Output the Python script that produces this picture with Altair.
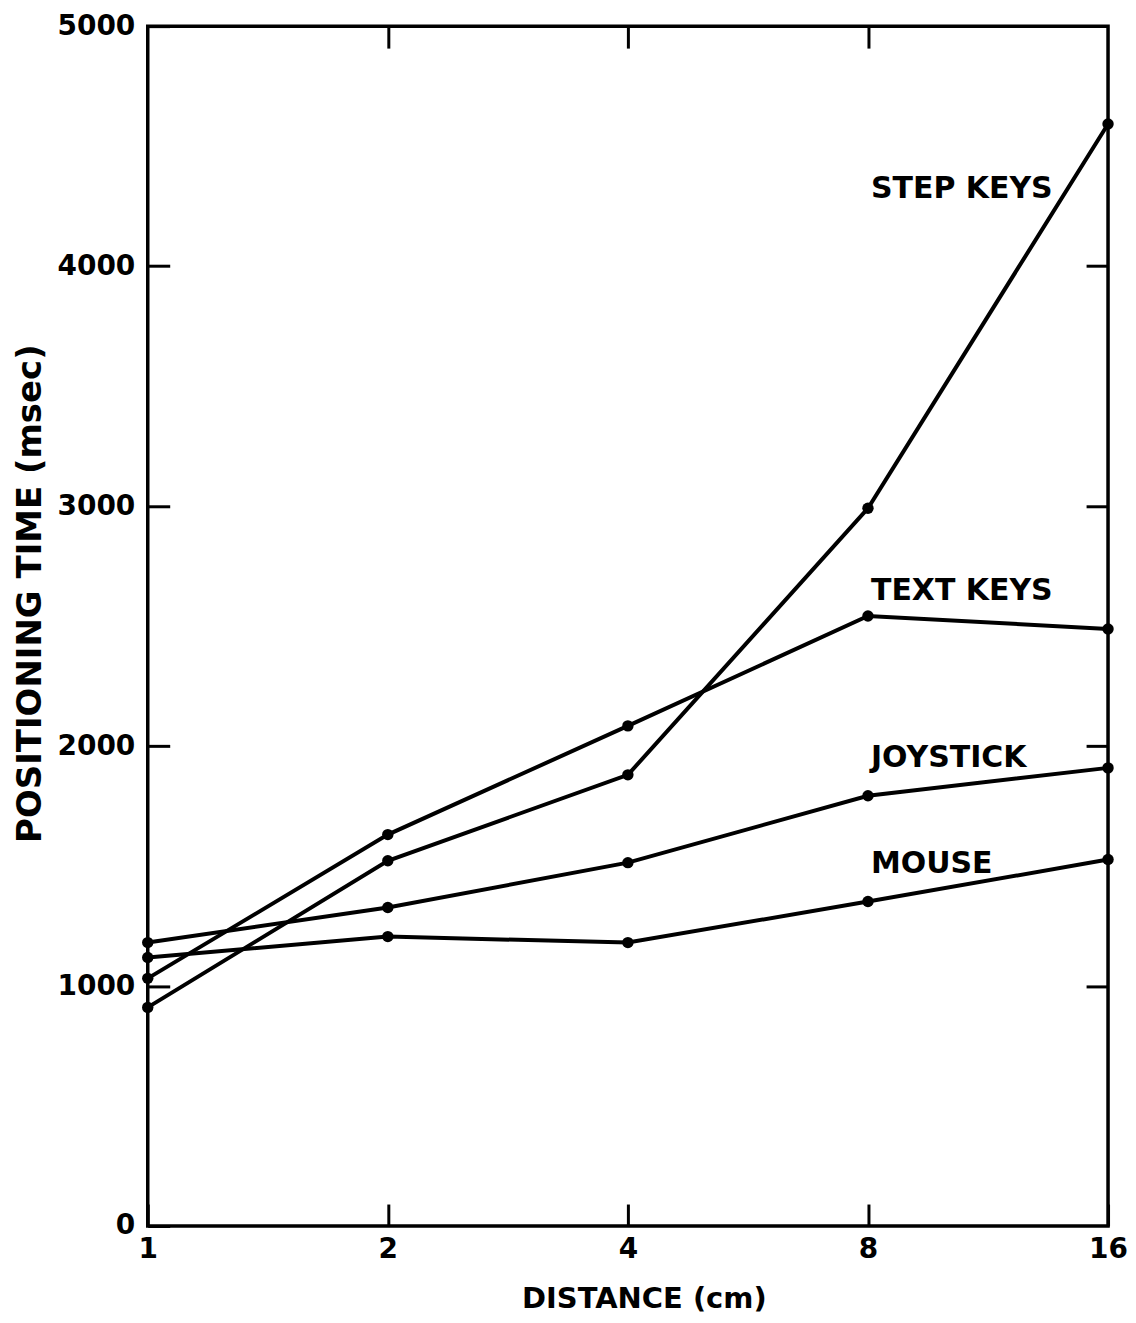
import altair as alt
import pandas as pd

distances = [1, 2, 4, 8, 16]
step_keys = [911, 1522, 1880, 2991, 4592]
text_keys = [1032, 1631, 2084, 2542, 2488]
joystick = [1181, 1327, 1514, 1793, 1909]
mouse = [1119, 1206, 1181, 1352, 1527]

series_names = ["STEP KEYS", "TEXT KEYS", "JOYSTICK", "MOUSE"]
label_x = [8, 8, 8, 8]
label_y = [4285, 2608, 1913, 1473]

rows = []
for name, vals in zip(series_names, [step_keys, text_keys, joystick, mouse]):
    for d, v in zip(distances, vals):
        rows.append({"series": name, "distance": d, "time": v})
df = pd.DataFrame(rows)
labels_df = pd.DataFrame({"series": series_names, "distance": label_x, "time": label_y})

FONT = "DejaVu Sans"
xscale = alt.Scale(type="log", base=2, domain=[1, 16], nice=False)
yscale = alt.Scale(domain=[0, 5000], nice=False)

lines = alt.Chart(df).mark_line(
    color="black", strokeWidth=4,
    point=alt.OverlayMarkDef(filled=True, size=130, color="black", opacity=1),
).encode(
    x=alt.X("distance:Q", scale=xscale,
            axis=alt.Axis(orient="bottom", values=distances, format="d",
                          tickSize=22, offset=-22, domain=False, labelPadding=10,
                          labelFlush=False, labelOverlap=False,
                          title="DISTANCE (cm)", titlePadding=21, titleX=497,
                          titleFontSize=29, grid=False)),
    y=alt.Y("time:Q", scale=yscale,
            axis=alt.Axis(orient="left", values=[0, 1000, 2000, 3000, 4000, 5000],
                          format="d", tickSize=22, offset=-22, domain=False,
                          labelPadding=13, labelFlush=False, labelOverlap=False,
                          title="POSITIONING TIME (msec)", titlePadding=10,
                          titleFontSize=34, titleY=568, grid=False)),
    detail="series:N",
)

labels = alt.Chart(labels_df).mark_text(
    align="left", baseline="alphabetic", dx=3, fontSize=30, font=FONT,
    fontWeight="bold", color="black",
).encode(
    x=alt.X("distance:Q", scale=xscale,
            axis=alt.Axis(orient="top", values=[2, 4, 8], tickSize=22, offset=-22,
                          domain=False, labels=False, title=None, grid=False)),
    y=alt.Y("time:Q", scale=yscale,
            axis=alt.Axis(orient="right", values=[1000, 2000, 3000, 4000], tickSize=22,
                          offset=-22, domain=False, labels=False, title=None, grid=False)),
    text="series:N",
)

chart = alt.layer(lines, labels).resolve_axis(
    x="independent", y="independent"
).properties(
    width=962, height=1202,
    padding={"left": 140, "top": 17, "right": 20, "bottom": 88},
    autosize=alt.AutoSizeParams(type="none"),
).configure_view(
    stroke="black", strokeWidth=3.5
).configure_axis(
    tickColor="black", tickWidth=3,
    labelFont=FONT, labelFontSize=28, labelFontWeight="bold", labelColor="black",
    titleFont=FONT, titleFontWeight="bold", titleColor="black",
)

chart.save("out.html", embed_options={"renderer": "svg", "actions": False})
